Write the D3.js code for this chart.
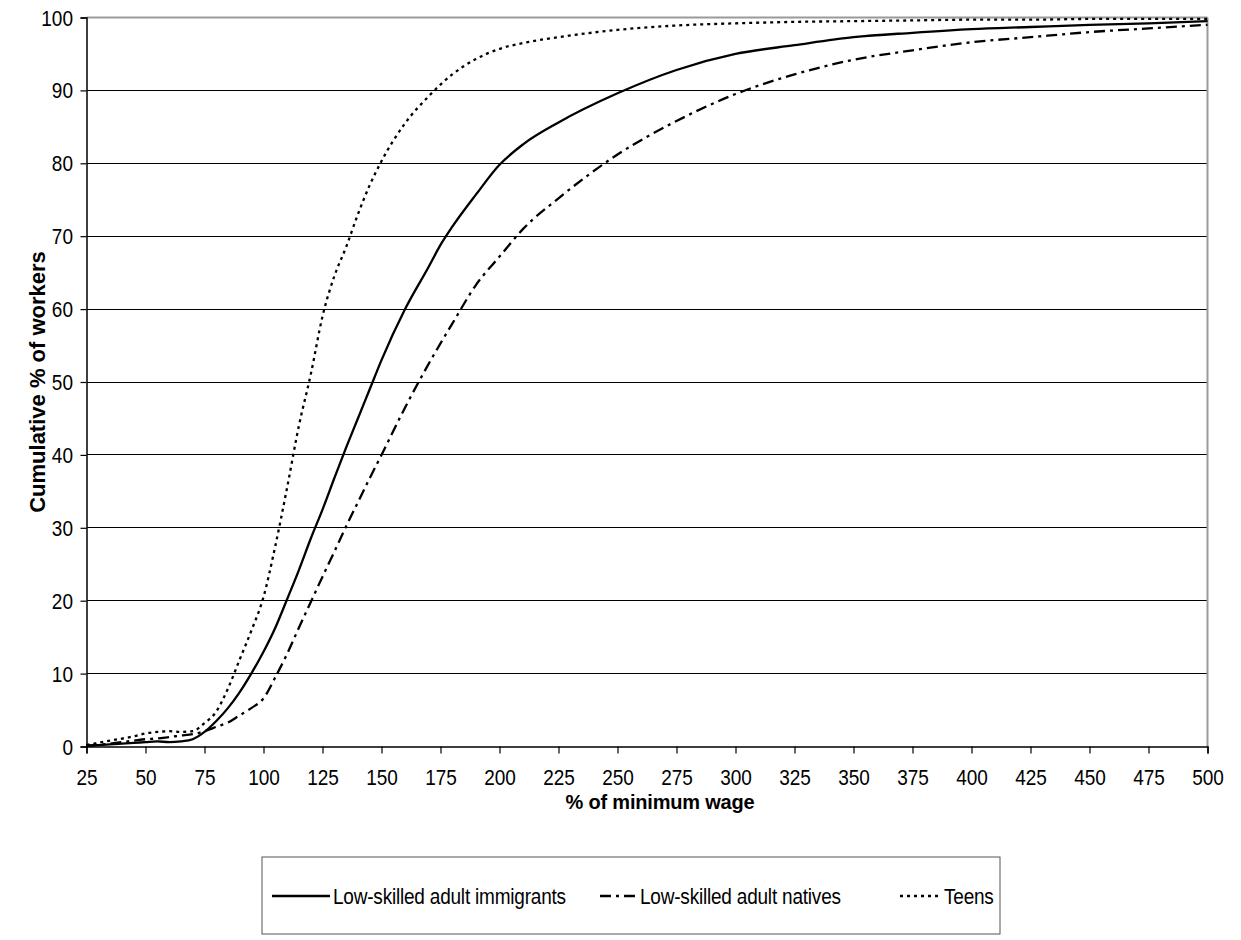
<!DOCTYPE html>
<html>
<head>
<meta charset="utf-8">
<script src="https://cdn.jsdelivr.net/npm/d3@7"></script>
<style>
  html, body { margin: 0; padding: 0; background: #fff; }
  svg { display: block; font-family: "Liberation Sans", Arial, sans-serif; }
</style>
</head>
<body>
<svg id="chart" width="1241" height="940"></svg>
<script>
// ---- data ----
const wagePct = [25, 35, 45, 50, 55, 60, 65, 70, 75, 80, 85, 90, 95, 100, 105, 110, 115, 120, 125, 130, 135, 140, 145, 150, 160, 170, 175, 180, 190, 200, 210, 225, 250, 275, 300, 325, 350, 375, 400, 425, 450, 475, 500];
const immigrants = [0.1, 0.3, 0.5, 0.6, 0.7, 0.6, 0.7, 1.0, 2.0, 3.5, 5.3, 7.5, 10.1, 13.0, 16.3, 20.2, 24.2, 28.5, 32.5, 36.8, 41.0, 45.0, 49.0, 53.0, 60.0, 65.8, 68.8, 71.3, 75.7, 79.8, 82.6, 85.6, 89.6, 92.8, 95.0, 96.2, 97.3, 97.9, 98.4, 98.7, 99.0, 99.2, 99.5];
const natives = [0.1, 0.4, 0.8, 1.0, 1.1, 1.3, 1.5, 1.7, 2.1, 2.7, 3.3, 4.3, 5.3, 6.6, 9.5, 12.7, 16.3, 19.8, 23.3, 26.7, 30.2, 33.5, 36.8, 40.0, 46.5, 52.5, 55.3, 58.0, 63.3, 67.2, 71.0, 75.2, 81.2, 85.8, 89.5, 92.2, 94.2, 95.5, 96.6, 97.3, 98.0, 98.5, 99.0];
const teens = [0.2, 0.8, 1.4, 1.8, 2.0, 2.1, 2.0, 2.1, 3.2, 4.8, 8.0, 12.0, 16.0, 20.5, 27.5, 35.5, 44.0, 51.0, 59.0, 64.5, 68.5, 73.0, 77.0, 80.3, 85.5, 89.2, 90.8, 92.2, 94.3, 95.7, 96.5, 97.3, 98.3, 98.9, 99.2, 99.4, 99.5, 99.6, 99.7, 99.7, 99.8, 99.8, 99.8];
const xTicks = [25, 50, 75, 100, 125, 150, 175, 200, 225, 250, 275, 300, 325, 350, 375, 400, 425, 450, 475, 500];
const yTicks = [0, 10, 20, 30, 40, 50, 60, 70, 80, 90, 100];
const seriesNames = ["Low-skilled adult immigrants", "Low-skilled adult natives", "Teens"];
const xTitle = "% of minimum wage";
const yTitle = "Cumulative % of workers";

// ---- layout ----
const svg = d3.select("#chart");
const L = 86.5, R = 1207.5, T = 17.5, B = 746.5;
const SY = 1.14; // vertical stretch of the reference's lettering
const x = d3.scaleLinear().domain([25, 500]).range([L, R]);
const y = d3.scaleLinear().domain([0, 100]).range([B, T]);

// gridlines
svg.append("g").selectAll("line").data(yTicks.filter(d => d > 0 && d < 100)).join("line")
  .attr("x1", L).attr("x2", R).attr("y1", d => y(d)).attr("y2", d => y(d))
  .attr("stroke", "#000").attr("stroke-width", 1).attr("shape-rendering", "crispEdges");

// top and right border (gray)
svg.append("line").attr("x1", L).attr("x2", R).attr("y1", y(100)).attr("y2", y(100))
  .attr("stroke", "#9a9a9a").attr("stroke-width", 2);
svg.append("line").attr("x1", R).attr("x2", R).attr("y1", T).attr("y2", B)
  .attr("stroke", "#9a9a9a").attr("stroke-width", 2);

// axes
const yAxis = d3.axisLeft(y).tickValues(yTicks).tickSize(6).tickFormat(d3.format("d"));
const gy = svg.append("g").attr("transform", `translate(${L},0)`).call(yAxis);
const xAxis = d3.axisBottom(x).tickValues(xTicks).tickSize(7).tickFormat(d3.format("d"));
const gx = svg.append("g").attr("transform", `translate(0,${B})`).call(xAxis);
[gx, gy].forEach(g => {
  g.select(".domain").attr("stroke", "#000").attr("stroke-width", 1.5);
  g.selectAll(".tick line").attr("stroke", "#000").attr("stroke-width", 1.2);
  g.selectAll(".tick text").attr("font-size", 19).attr("fill", "#000")
    .attr("font-family", "'Liberation Sans', Arial, sans-serif")
    .attr("x", 0).attr("y", 0).attr("dy", 0);
});
gy.selectAll(".tick text").attr("transform", `translate(-13.5,7.5) scale(1,${SY})`);
gx.selectAll(".tick text").attr("transform", `translate(0,38.5) scale(1,${SY})`);

// lines
const seriesValues = [immigrants, natives, teens];
const dashes = [null, "11,5,3,5", "3,4"];
const line = d3.line().x(d => x(d[0])).y(d => y(d[1])).curve(d3.curveMonotoneX);
seriesValues.forEach((vals, i) => {
  svg.append("path")
    .datum(wagePct.map((w, j) => [w, vals[j]]))
    .attr("d", line)
    .attr("fill", "none")
    .attr("stroke", "#000")
    .attr("stroke-width", 2.3)
    .attr("stroke-dasharray", dashes[i]);
});

// titles
svg.append("text").attr("x", 660).attr("y", 809).attr("text-anchor", "middle")
  .attr("font-size", 20).attr("font-weight", "bold").attr("letter-spacing", "-0.2").text(xTitle);
svg.append("text").attr("transform", `translate(45,${(T + B) / 2}) rotate(-90)`)
  .attr("text-anchor", "middle").attr("font-size", 22).attr("font-weight", "bold").text(yTitle);

// legend
const lg = svg.append("g");
lg.append("rect").attr("x", 262).attr("y", 857).attr("width", 738).attr("height", 77)
  .attr("fill", "#fff").attr("stroke", "#555").attr("stroke-width", 1);
const legendItems = [
  { key: [272, 330], tx: 333 },
  { key: [600, 637], tx: 640 },
  { key: [900, 939], tx: 944 }
];
legendItems.forEach((it, i) => {
  lg.append("line").attr("x1", it.key[0]).attr("x2", it.key[1]).attr("y1", 896).attr("y2", 896)
    .attr("stroke", "#000").attr("stroke-width", 2.3).attr("stroke-dasharray", dashes[i]);
  lg.append("text").attr("transform", `translate(${it.tx},903.5) scale(1,${SY})`).attr("font-size", 19)
    .attr("letter-spacing", "-0.2").text(seriesNames[i]);
});
</script>
</body>
</html>
